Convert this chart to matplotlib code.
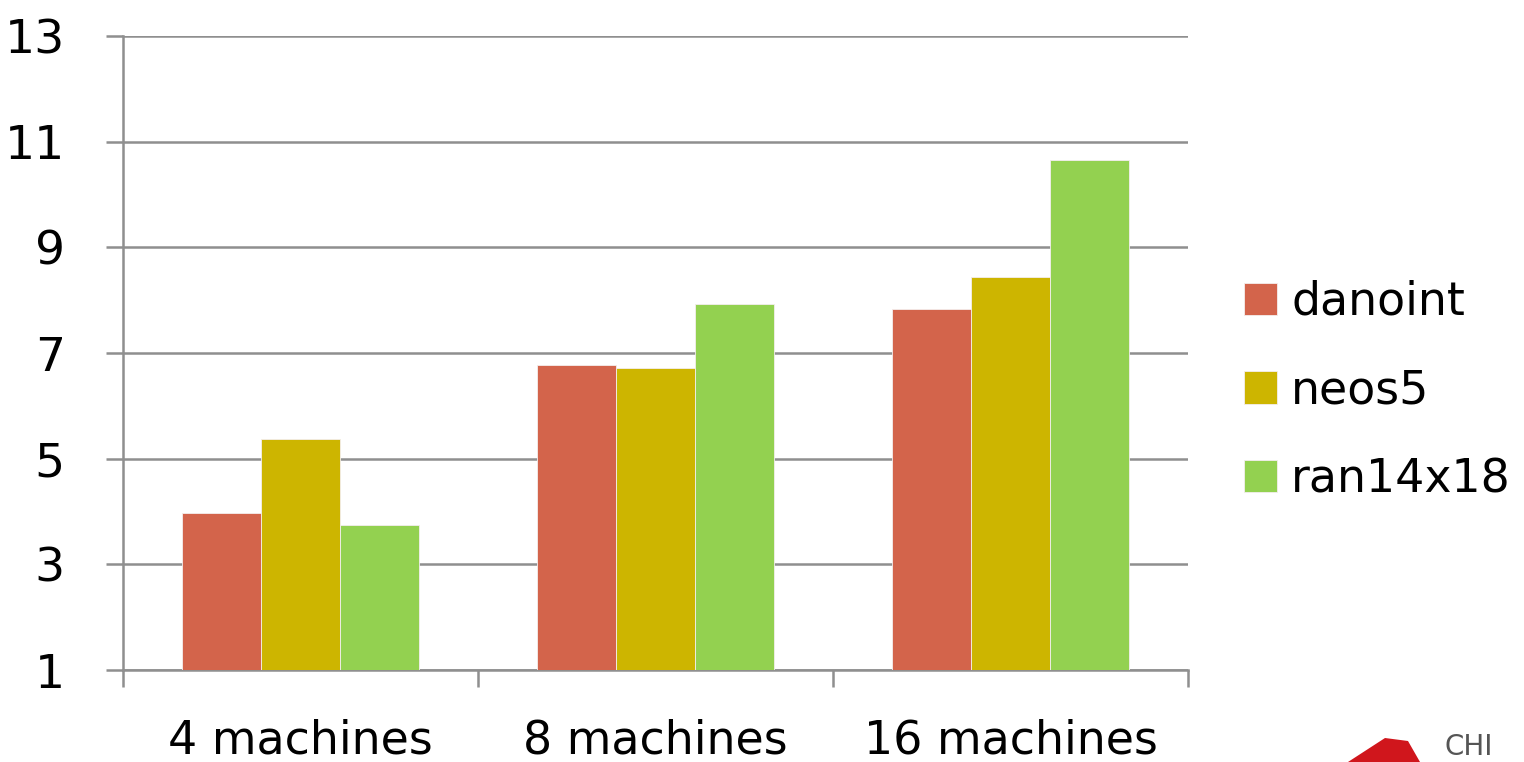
import matplotlib
matplotlib.use("Agg")
import matplotlib.pyplot as plt
import numpy as np
from matplotlib.patches import Polygon

categories = ["4 machines", "8 machines", "16 machines"]
series_names = ["danoint", "neos5", "ran14x18"]
danoint = [3.97, 6.77, 7.84]
neos5 = [5.37, 6.72, 8.43]
ran14x18 = [3.74, 7.93, 10.65]
y_ticks = [1, 3, 5, 7, 9, 11, 13]

colors = ["#D3644B", "#CDB500", "#93D150"]
grid_color = "#8f8f8f"

plt.rcParams["font.family"] = ["DejaVu Sans"]

fig = plt.figure(figsize=(15.24, 7.62), dpi=100)
ax = fig.add_axes([123 / 1524, 1 - 670 / 762, (1188 - 123) / 1524, (670 - 36) / 762])

x = np.arange(len(categories))
width = 0.222
for i, (vals, name) in enumerate(zip([danoint, neos5, ran14x18], series_names)):
    ax.bar(x + (i - 1) * width, np.array(vals) - 1, width, bottom=1,
           color=colors[i], edgecolor="#f4eeee", linewidth=0.6, label=name, zorder=3)

ax.set_xlim(-0.5, len(categories) - 0.5)
ax.set_ylim(1, 13)
ax.set_yticks(y_ticks)
ax.set_yticklabels([str(t) for t in y_ticks], fontsize=34)
ax.yaxis.grid(True, color=grid_color, linewidth=1.8, zorder=0)
ax.set_axisbelow(True)

# category boundaries carry the x ticks, labels sit at centres
ax.set_xticks(np.arange(len(categories) + 1) - 0.5)
ax.set_xticklabels([])
ax.set_xticks(x, minor=True)
ax.set_xticklabels(categories, minor=True, fontsize=33)
ax.tick_params(axis="x", which="major", length=12, width=1.8, color=grid_color, direction="out")
ax.tick_params(axis="x", which="minor", length=0, pad=35)
ax.tick_params(axis="y", length=12, width=1.8, color=grid_color, direction="out", pad=30)

for side in ["top", "right"]:
    ax.spines[side].set_visible(False)
for side in ["left", "bottom"]:
    ax.spines[side].set_color(grid_color)
    ax.spines[side].set_linewidth(1.8)

leg = fig.legend(loc="center left", bbox_to_anchor=(1226 / 1524, 1 - 391 / 762),
                 frameon=False, fontsize=33, handlelength=0.72, handleheight=0.72,
                 handletextpad=0.3, labelspacing=0.95, borderaxespad=0)

# partial logo in the lower right corner
fig.patches.append(Polygon([[1348 / 1524, 0], [1385 / 1524, 24 / 762], [1408 / 1524, 21 / 762],
                            [1420 / 1524, 0]], closed=True, transform=fig.transFigure,
                           facecolor="#d0161c", edgecolor="none"))
fig.text(1445 / 1524, 1 / 762, "CHI", fontsize=20, color="#555555", ha="left", va="bottom")

fig.savefig("out.png", dpi=100)
